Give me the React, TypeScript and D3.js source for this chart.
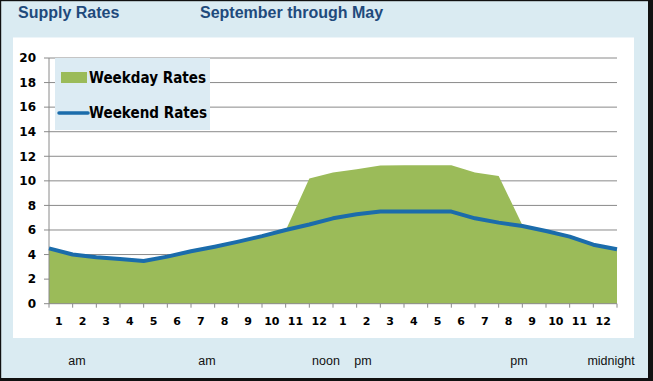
import React from "react";
import * as d3 from "d3";

const hourLabels = ["1","2","3","4","5","6","7","8","9","10","11","12","1","2","3","4","5","6","7","8","9","10","11","12"];
const weekendRates = [4.5, 4.0, 3.78, 3.64, 3.48, 3.83, 4.27, 4.64, 5.05, 5.5, 6.0, 6.45, 6.95, 7.28, 7.5, 7.5, 7.5, 7.5, 6.95, 6.6, 6.33, 5.92, 5.46, 4.8, 4.43];
const weekdayRates = [4.4, 3.95, 3.7, 3.55, 3.4, 3.75, 4.2, 4.6, 5.0, 5.45, 5.95, 10.2, 10.67, 10.94, 11.24, 11.27, 11.27, 11.27, 10.67, 10.4, 6.4, 5.85, 5.4, 4.75, 4.35];
const yTicks = [0, 2, 4, 6, 8, 10, 12, 14, 16, 18, 20];
const periodLabels = [
  { text: "am", x: 77 },
  { text: "am", x: 207 },
  { text: "noon", x: 326 },
  { text: "pm", x: 363 },
  { text: "pm", x: 519 },
  { text: "midnight", x: 611 },
];
const titleLeft = "Supply Rates";
const titleRight = "September through May";
const legendItems = ["Weekday Rates", "Weekend Rates"];

const W = 653, H = 381;
const GREEN = "#9BBB59";
const BLUE = "#1B6CAB";
const TITLE = "#1F4A7C";

export default function App() {
  const x = d3.scaleLinear().domain([0, 24]).range([49, 617]);
  const y = d3.scaleLinear().domain([0, 20]).range([303.7, 58]);
  const idx = d3.range(weekdayRates.length);
  const area = d3.area<number>().x((i) => x(i)).y0(y(0)).y1((i) => y(weekdayRates[i]))(idx) || "";
  const line = d3.line<number>().x((i) => x(i)).y((i) => y(weekendRates[i]))(idx) || "";
  const tickFont = "'DejaVu Sans', Verdana, sans-serif";
  return (
    <svg width={W} height={H} style={{ position: "absolute", left: 0, top: 0 }}>
      <rect x={0} y={0} width={W} height={H} fill="#DAEBF2" />
      <rect x={0} y={0} width={W} height={1.2} fill="#111" />
      <rect x={0} y={0} width={1.2} height={H} fill="#111" />
      <rect x={648} y={0} width={5} height={H} fill="#111" />
      <rect x={0} y={378} width={W} height={3} fill="#111" />
      <rect x={13} y={37.5} width={621} height={300.5} fill="#fff" />
      <text x={18} y={18} fontFamily="'Liberation Sans', Arial, sans-serif" fontWeight="bold" fontSize={16} fill={TITLE}>{titleLeft}</text>
      <text x={200} y={18} fontFamily="'Liberation Sans', Arial, sans-serif" fontWeight="bold" fontSize={16} fill={TITLE}>{titleRight}</text>
      {yTicks.filter((t) => t > 0).map((t) => (
        <line key={"g" + t} x1={x(0)} x2={x(24)} y1={y(t)} y2={y(t)} stroke="#8a8a8a" strokeWidth={1} />
      ))}
      <path d={area} fill={GREEN} />
      <line x1={x(0)} x2={x(0)} y1={y(20)} y2={y(0)} stroke="#8a8a8a" strokeWidth={1} />
      <line x1={x(0)} x2={x(24)} y1={y(0)} y2={y(0)} stroke="#8a8a8a" strokeWidth={1} />
      {yTicks.map((t) => (
        <g key={"y" + t}>
          <line x1={44} x2={x(0)} y1={y(t)} y2={y(t)} stroke="#8a8a8a" />
          <text x={36} y={y(t)} dy="0.36em" textAnchor="end" fontFamily={tickFont} fontWeight="bold" fontSize={12} fill="#000">{t}</text>
        </g>
      ))}
      {d3.range(25).map((i) => (
        <line key={"xt" + i} x1={x(i)} x2={x(i)} y1={y(0)} y2={y(0) + 4} stroke="#8a8a8a" />
      ))}
      {hourLabels.map((l, i) => (
        <text key={"xl" + i} x={x(i + 0.5) - 2} y={325} textAnchor="middle" fontFamily={tickFont} fontWeight="bold" fontSize={11} fill="#000">{l}</text>
      ))}
      <path d={line} fill="none" stroke={BLUE} strokeWidth={4} strokeLinejoin="round" />
      <rect x={55} y={58} width={155} height={72} fill="#DCEBF3" />
      <rect x={61} y={72} width={26} height={11} fill={GREEN} />
      <text x={89} y={83} fontFamily={tickFont} fontWeight="bold" fontSize={15} fill="#000" textLength={117} lengthAdjust="spacingAndGlyphs">{legendItems[0]}</text>
      <line x1={59} x2={88} y1={113} y2={113} stroke={BLUE} strokeWidth={3.5} strokeLinecap="round" />
      <text x={89} y={118} fontFamily={tickFont} fontWeight="bold" fontSize={15} fill="#000" textLength={118} lengthAdjust="spacingAndGlyphs">{legendItems[1]}</text>
      {periodLabels.map((p, i) => (
        <text key={"p" + i} x={p.x} y={365} textAnchor="middle" fontFamily="'Liberation Sans', Arial, sans-serif" fontSize={12.5} fill="#111">{p.text}</text>
      ))}
    </svg>
  );
}
